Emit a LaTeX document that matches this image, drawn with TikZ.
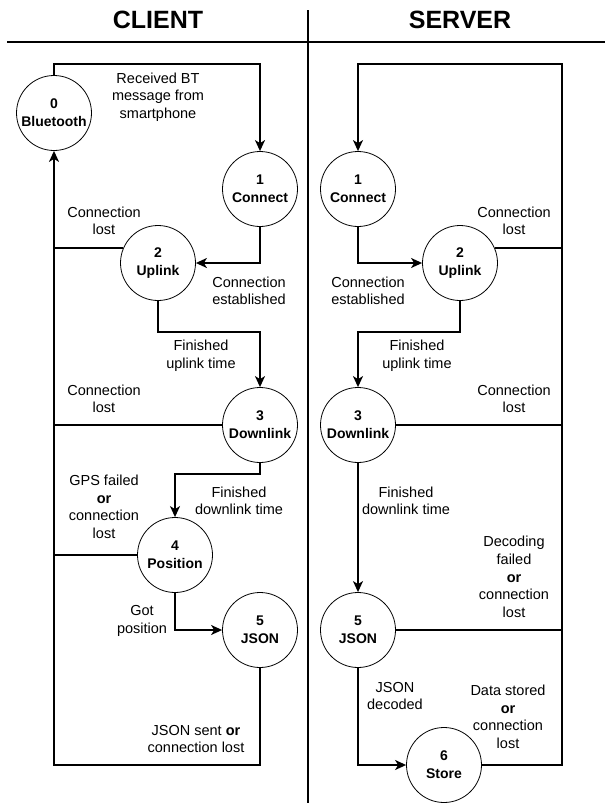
\documentclass[tikz,border=0pt]{standalone}
\usepackage{fontspec}
\setmainfont{Liberation Sans}
\usepackage{tikz}
\usetikzlibrary{arrows.meta, positioning, calc}

\tikzset{
    state/.style={draw, circle, minimum size=75pt, inner sep=0pt, align=center,
                  line width=0.8pt, font=\bfseries\fontsize{14}{18}\selectfont},
    flow/.style={-{Stealth[length=11pt, width=10pt, inset=3pt]}, line width=1.5pt},
    link/.style={line width=1.5pt},
    lbl/.style={align=center, font=\fontsize{14.5}{17.6}\selectfont},
    title/.style={font=\bfseries\fontsize{25}{28}\selectfont}
}

\begin{document}
\begin{tikzpicture}[x=1pt, y=-1pt]
    \useasboundingbox (0,0) rectangle (605,803);

    % Header and divider
    \node[title] (client) at (158, 20) {CLIENT};
    \node[title] (server) at (460, 20) {SERVER};
    \draw[link] (7, 42) -- (605, 42);
    \draw[link] (308, 10) -- (308, 803);

    % Client states
    \node[state] (bt)  at (54, 113)  {0\\Bluetooth};
    \node[state] (cc1) at (260, 189) {1\\Connect};
    \node[state] (cu2) at (158, 263) {2\\Uplink};
    \node[state] (cd3) at (260, 425) {3\\Downlink};
    \node[state] (cp4) at (175, 555) {4\\Position};
    \node[state] (cj5) at (260, 630) {5\\JSON};

    % Client transitions
    \draw[flow] (bt.north) -- ++(0,-11) -| (cc1.north);
    \draw[flow] (cc1.south) |- (cu2.east);
    \draw[flow] (cu2.south) -- ++(0,31) -| (cd3.north);
    \draw[flow] (cd3.south) -- ++(0,11) -| (cp4.north);
    \draw[flow] (cp4.south) |- (cj5.west);
    \draw[flow] (cj5.south) -- ++(0,97) -| (bt.south);

    % Client fallbacks to Bluetooth
    \draw[link] (cu2.157) -- (cu2.157 -| bt.south);
    \draw[link] (cd3.west) -- (cd3.west -| bt.south);
    \draw[link] (cp4.west) -- (cp4.west -| bt.south);

    % Client labels
    \node[lbl] (l0) at (158, 97)  {Received BT\\message from\\smartphone};
    \node[lbl] (l1) at (104, 221) {Connection\\lost};
    \node[lbl] (l2) at (249, 291) {Connection\\established};
    \node[lbl] (l3) at (201, 356) {Finished\\uplink time};
    \node[lbl] (l4) at (104, 399) {Connection\\lost};
    \node[lbl] (l5) at (104, 507) {GPS failed\\\textbf{or}\\connection\\lost};
    \node[lbl] (l6) at (239, 501) {Finished\\downlink time};
    \node[lbl] (l7) at (142, 621) {Got\\position};
    \node[lbl] (l8) at (196, 739) {JSON sent \textbf{or}\\connection lost};

    % Server states
    \node[state] (sc1) at (358, 189) {1\\Connect};
    \node[state] (su2) at (460, 263) {2\\Uplink};
    \node[state] (sd3) at (358, 425) {3\\Downlink};
    \node[state] (sj5) at (358, 630) {5\\JSON};
    \node[state] (ss6) at (444, 765) {6\\Store};
    \coordinate (rail) at (562, 64);

    % Server transitions
    \draw[flow] (ss6.east) -| (rail) -| (sc1.north);
    \draw[flow] (sc1.south) |- (su2.west);
    \draw[flow] (su2.south) -- ++(0,31) -| (sd3.north);
    \draw[flow] (sd3.south) -- (sj5.north);
    \draw[flow] (sj5.south) |- (ss6.west);

    % Server fallbacks to Connect
    \draw[link] (su2.23) -- (su2.23 -| rail);
    \draw[link] (sd3.east) -- (sd3.east -| rail);
    \draw[link] (sj5.east) -- (sj5.east -| rail);

    % Server labels
    \node[lbl] (m1) at (368, 291) {Connection\\established};
    \node[lbl] (m2) at (514, 221) {Connection\\lost};
    \node[lbl] (m3) at (417, 356) {Finished\\uplink time};
    \node[lbl] (m4) at (514, 399) {Connection\\lost};
    \node[lbl] (m5) at (406, 501) {Finished\\downlink time};
    \node[lbl] (m6) at (514, 577) {Decoding\\failed\\\textbf{or}\\connection\\lost};
    \node[lbl] (m7) at (395, 696) {JSON\\decoded};
    \node[lbl] (m8) at (508, 717) {Data stored\\\textbf{or}\\connection\\lost};
\end{tikzpicture}
\end{document}
